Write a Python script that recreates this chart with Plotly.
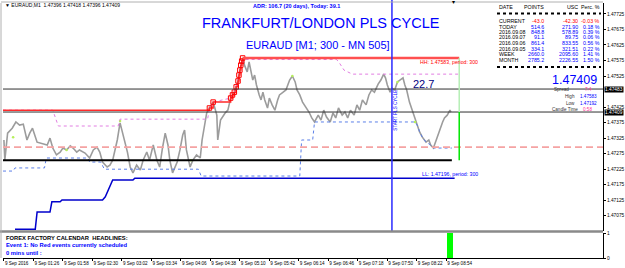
import plotly.graph_objects as go

# ---------------- data (minutes since 9 Sep 00:54, price) ----------------
bar_minute = [0, 1, 4, 9, 13, 17, 21, 25, 28, 31, 36, 41, 47, 50, 53, 57, 61, 64, 68, 72,
              75, 79, 82, 88, 93, 97, 101, 104, 107, 112, 115, 118, 123, 126, 128, 131, 134, 137, 140, 144,
              148, 151, 155, 158, 162, 166, 169, 172, 175, 178, 180, 183, 188, 191, 194, 196, 198, 202, 205, 209,
              213, 215, 218, 220, 223, 227, 231, 232, 235, 240, 243, 246, 248, 250, 252, 254, 255, 256, 257, 258,
              259, 261, 264, 266, 268, 270, 272, 274, 277, 279, 281, 283, 286, 288, 291, 294, 297, 299, 303, 306,
              308, 310, 313, 316, 318, 321, 324, 328, 331, 334, 337, 341, 344, 347, 350, 354, 357, 360, 363, 367,
              370, 373, 376, 380, 383, 386, 389, 393, 396, 399, 402, 406, 409, 412, 414, 416, 419, 421, 424, 427,
              430, 433, 435, 437, 440, 443, 446, 449, 451, 454, 458, 461, 463, 466, 470, 473, 476, 478, 481, 484, 485]
close_price = [1.47319, 1.47254, 1.47341, 1.47357, 1.47377, 1.47367, 1.47370, 1.47319, 1.47341, 1.47357,
               1.47312, 1.47309, 1.47303, 1.47325, 1.47293, 1.47271, 1.47280, 1.47293, 1.47287, 1.47300,
               1.47293, 1.47280, 1.47287, 1.47277, 1.47261, 1.47287, 1.47296, 1.47280, 1.47248, 1.47232,
               1.47238, 1.47254, 1.47319, 1.47374, 1.47351, 1.47309, 1.47280, 1.47232, 1.47213, 1.47238,
               1.47222, 1.47254, 1.47280, 1.47254, 1.47303, 1.47254, 1.47232, 1.47293, 1.47341, 1.47303,
               1.47254, 1.47213, 1.47248, 1.47287, 1.47335, 1.47351, 1.47287, 1.47232, 1.47254, 1.47271,
               1.47261, 1.47319, 1.47374, 1.47406, 1.47422, 1.47441, 1.47399, 1.47319, 1.47383, 1.47406,
               1.47415, 1.47454, 1.47464, 1.47473, 1.47490, 1.47509, 1.47528, 1.47544, 1.47560, 1.47573,
               1.47583, 1.47560, 1.47538, 1.47570, 1.47544, 1.47512, 1.47528, 1.47496, 1.47464, 1.47448,
               1.47473, 1.47448, 1.47422, 1.47454, 1.47432, 1.47415, 1.47448, 1.47464, 1.47473, 1.47480,
               1.47496, 1.47512, 1.47525, 1.47506, 1.47480, 1.47464, 1.47441, 1.47425, 1.47409, 1.47390,
               1.47377, 1.47399, 1.47383, 1.47415, 1.47393, 1.47377, 1.47406, 1.47390, 1.47422, 1.47399,
               1.47409, 1.47390, 1.47415, 1.47399, 1.47432, 1.47415, 1.47448, 1.47432, 1.47464, 1.47480,
               1.47473, 1.47499, 1.47512, 1.47531, 1.47519, 1.47496, 1.47473, 1.47486, 1.47480, 1.47506,
               1.47512, 1.47519, 1.47496, 1.47480, 1.47441, 1.47415, 1.47383, 1.47364, 1.47345, 1.47328,
               1.47312, 1.47319, 1.47303, 1.47293, 1.47328, 1.47357, 1.47377, 1.47390, 1.47399, 1.47415, 1.47409]

# new-high squares (HH trail)
hh_minute = [-1, 223, 227, 246, 248, 250, 252, 254, 255, 256, 257, 258, 259]
hh_price = [1.47415, 1.47422, 1.47441, 1.47454, 1.47464, 1.47473, 1.47490, 1.47509, 1.47528, 1.47544,
            1.47560, 1.47573, 1.47583]
hh_level_minute = [259, 494]
hh_level = 1.47583

# short trailing high (violet dotted)
vhigh_minute = [-1, 53, 59, 124, 126, 221, 223, 227, 246, 250, 254, 257, 261, 361, 364, 369, 378, 494]
vhigh_price = [1.47415, 1.47415, 1.47364, 1.47364, 1.47386, 1.47386, 1.47422, 1.47441, 1.47454, 1.47473,
               1.47509, 1.47560, 1.47578, 1.47578, 1.47567, 1.47544, 1.47531, 1.47531]

# short trailing low (blue dotted)
vlow_minute = [-1, 10, 12, 44, 46, 91, 93, 105, 109, 211, 214, 321, 323, 335, 337, 446, 449, 451, 454,
               458, 463, 466, 486]
vlow_price = [1.47219, 1.47219, 1.47229, 1.47229, 1.47261, 1.47261, 1.47248, 1.47248, 1.47225, 1.47225,
              1.47203, 1.47203, 1.47319, 1.47319, 1.47377, 1.47377, 1.47364, 1.47345, 1.47328,
              1.47312, 1.47303, 1.47293, 1.47293]

# LL trail (dark blue)
ll_minute = [12, 34, 36, 50, 52, 61, 63, 107, 110, 115, 118, 140, 142, 489]
ll_price = [1.47032, 1.47032, 1.47087, 1.47087, 1.47120, 1.47120, 1.47126, 1.47126, 1.47136, 1.47168,
            1.47190, 1.47190, 1.47196, 1.47196]

green_dot_minute = [10, 68, 126, 203, 313, 427, 446]
green_dot_price = [1.47328, 1.47287, 1.47380, 1.47254, 1.47525, 1.47506, 1.47377]

support_level = 1.47254          # thick black
support_end_minute = 486
pivot_level = 1.47296            # dashed light red
upper_level = 1.47483            # thin black, labelled on axis
bid_level = 1.47409              # thin black, labelled on axis
cycle_start_minute = 421
now_minute = 494
signal_minute = [484]
signal_value = [1]

x_tick_minute = [0, 32, 64, 96, 128, 160, 192, 224, 256, 288, 320, 352, 384, 416, 448, 480]
x_tick_text = ["9 Sep 2016", "9 Sep 01:26", "9 Sep 01:58", "9 Sep 02:30", "9 Sep 03:02", "9 Sep 03:34",
               "9 Sep 04:06", "9 Sep 04:38", "9 Sep 05:10", "9 Sep 05:42", "9 Sep 06:14", "9 Sep 06:46",
               "9 Sep 07:18", "9 Sep 07:50", "9 Sep 08:22", "9 Sep 08:54"]
# 1.47475 is hidden behind the 1.47483 price box in the reference
y_tick_price = [1.47725, 1.47675, 1.47625, 1.47575, 1.47525, 1.47425, 1.47375, 1.47325,
                1.47275, 1.47225, 1.47175, 1.47125, 1.47075, 1.47025]

table_rows = ["CURRENT", "TODAY", "2016.09.08", "2016.09.07", "2016.09.06", "2016.09.05", "WEEK", "MONTH"]
table_points = ["-43.0", "514.6", "848.8", "91.1", "861.4", "334.1", "2660.0", "2785.2"]
table_usc = ["-42.30", "271.90", "578.89", "89.75", "833.55", "321.51", "2095.60", "2226.55"]
table_perc = ["-0.03 %", "0.18 %", "0.39 %", "0.06 %", "0.56 %", "0.22 %", "1.41 %", "1.50 %"]

# ---------------- layout helpers (pixels -> paper) ----------------
W, H = 625, 268
ML, MR, MT, MB = 3, 22, 3, 10
PW, PH = W - ML - MR, H - MT - MB


def px(x):
    return (x - ML) / PW


def py(y):
    return (H - MB - y) / PH


FONT = "Liberation Sans"
BLUE = "#0000ff"

fig = go.Figure()

# price
fig.add_trace(go.Scatter(x=bar_minute, y=close_price, mode="lines",
                         line=dict(color="#9c9c9c", width=1.6), xaxis="x", yaxis="y"))
fig.add_trace(go.Scatter(x=green_dot_minute, y=green_dot_price, mode="markers",
                         marker=dict(color="#b6f05a", size=2.5), xaxis="x", yaxis="y"))
# violet dotted trailing high
fig.add_trace(go.Scatter(x=vhigh_minute, y=vhigh_price, mode="lines",
                         line=dict(color="#e27ee2", width=1, dash="dot"), xaxis="x", yaxis="y"))
# blue dotted trailing low
fig.add_trace(go.Scatter(x=vlow_minute, y=vlow_price, mode="lines",
                         line=dict(color="#5b7fe8", width=1, dash="dot"), xaxis="x", yaxis="y"))
# LL dark blue
fig.add_trace(go.Scatter(x=ll_minute, y=ll_price, mode="lines",
                         line=dict(color="#0000cc", width=1.5), xaxis="x", yaxis="y"))
# HH trail red with squares
fig.add_trace(go.Scatter(x=hh_minute, y=hh_price, mode="lines", line_shape="hv",
                         line=dict(color="#ff2a2a", width=1.5), xaxis="x", yaxis="y"))
fig.add_trace(go.Scatter(x=hh_minute[1:], y=hh_price[1:], mode="markers",
                         marker=dict(symbol="square-open", color="#ff0000", size=4.5, line=dict(width=1)),
                         xaxis="x", yaxis="y"))
fig.add_trace(go.Scatter(x=hh_level_minute, y=[hh_level, hh_level], mode="lines",
                         line=dict(color="#ff5050", width=2.5), xaxis="x", yaxis="y"))
# support thick black
fig.add_trace(go.Scatter(x=[-1, support_end_minute], y=[support_level, support_level], mode="lines",
                         line=dict(color="#000000", width=2), xaxis="x", yaxis="y"))
# signal bar in lower pane
fig.add_trace(go.Bar(x=signal_minute, y=signal_value, width=7, marker=dict(color="#00ff00", line_width=0),
                     xaxis="x", yaxis="y2"))

shapes = []
# full width levels
shapes.append(dict(type="line", xref="x domain", yref="y", x0=0, x1=1, y0=pivot_level, y1=pivot_level,
                   line=dict(color="#f5a3a3", width=1.8, dash="7px,4px")))
for lvl in (upper_level, bid_level):
    shapes.append(dict(type="line", xref="x domain", yref="y", x0=0, x1=1, y0=lvl, y1=lvl,
                       line=dict(color="#303030", width=1)))
# cycle start vertical
shapes.append(dict(type="line", xref="x", yref="paper", x0=cycle_start_minute, x1=cycle_start_minute,
                   y0=py(231), y1=py(0), line=dict(color="#2b2bff", width=1.5)))
# now vertical (pale + bright green)
shapes.append(dict(type="line", xref="x", yref="y", x0=now_minute, x1=now_minute, y0=hh_level, y1=bid_level,
                   line=dict(color="#b5efb5", width=1.5)))
shapes.append(dict(type="line", xref="x", yref="y", x0=now_minute, x1=now_minute, y0=bid_level,
                   y1=support_level, line=dict(color="#00e600", width=1.5)))
# pane separator and frame
shapes.append(dict(type="line", xref="paper", yref="paper", x0=px(0), x1=1, y0=py(231.5), y1=py(231.5),
                   line=dict(color="#8a8a8a", width=2.5)))
shapes.append(dict(type="line", xref="paper", yref="paper", x0=px(1), x1=px(1), y0=0, y1=1,
                   line=dict(color="#b0b0b0", width=1)))
shapes.append(dict(type="line", xref="paper", yref="paper", x0=px(1), x1=1, y0=py(2), y1=py(2),
                   line=dict(color="#b0b0b0", width=1)))
# table separators
for yy in (13.5, 67):
    shapes.append(dict(type="line", xref="paper", yref="paper", x0=px(497), x1=px(601), y0=py(yy), y1=py(yy),
                       line=dict(color="#000000", width=2, dash="dot")))

ann = []


def text(t, x, y, size, color="#000000", anchor="left", bold=False, angle=0, yanchor="middle"):
    ann.append(dict(text=("<b>%s</b>" % t) if bold else t, x=px(x), y=py(y), xref="paper", yref="paper",
                    xanchor=anchor, yanchor=yanchor, showarrow=False, textangle=angle,
                    font=dict(family=FONT, size=size, color=color)))


text("ADR: 106.7 (20 days), Today: 39.1", 296, 6, 5.5, BLUE, "center", bold=True)
text("FRANKFURT/LONDON PLS CYCLE", 321, 23, 14.5, BLUE, "center")
text("EURAUD [M1; 300 - MN 505]", 318, 45, 11, BLUE, "center")
text("▼ EURAUD,M1  1.47396 1.47418 1.47396 1.47409", 3, 5.5, 5, "#000000")
text("▾", 453, 2, 6, "#000000", "center")

# table
TS = 5.3
text("DATE", 497, 7, TS)
text("POINTS", 546, 7, TS, anchor="right")
text("USC", 580, 7, TS, anchor="right")
text("Perc. %", 602, 7, TS, anchor="right")
row_y = [21, 26.5, 32, 37.5, 43, 48.5, 54.5, 60.5]
for i, r in enumerate(table_rows):
    c = "#ff0000" if i == 0 else BLUE
    text(r, 497, row_y[i], TS)
    text(table_points[i], 546, row_y[i], TS, c, "right")
    text(table_usc[i], 580, row_y[i], TS, c, "right")
    text(table_perc[i], 602, row_y[i], TS, c, "right")

text("%.5f" % bid_level, 599, 80, 12.5, BLUE, "right")
text("Spread", 571, 89, 4.6, "#333333", "right")
text("7.4", 594, 89, 4.6, "#ff3399", "right")
text("High", 577, 96, 4.6, "#333333", "right")
text("%.5f" % hh_level, 578, 96, 4.6, BLUE)
text("Low", 577, 103, 4.6, "#333333", "right")
text("1.47192", 578, 103, 4.6, BLUE)
text("Candle Time", 580, 110, 4.6, "#333333", "right")
text("0:58", 594, 110, 4.6, "#ff3399", "right")

# chart labels
ann.append(dict(text="22.7", x=455, y=1.47499, xref="x", yref="y", xanchor="center", yanchor="middle",
                showarrow=False, font=dict(family=FONT, size=11, color="#000080")))
ann.append(dict(text="HH: %.5f, period: 300" % hh_level, x=449, y=1.47571, xref="x", yref="y",
                xanchor="left", yanchor="middle", showarrow=False,
                font=dict(family=FONT, size=5.2, color="#ff0000")))
ann.append(dict(text="LL: 1.47196, period: 300", x=451, y=1.47209, xref="x", yref="y",
                xanchor="left", yanchor="middle", showarrow=False,
                font=dict(family=FONT, size=5.2, color=BLUE)))
ann.append(dict(text="START PLS CYCLE", x=cycle_start_minute + 4, y=1.47415, xref="x", yref="y",
                xanchor="center", yanchor="middle", showarrow=False, textangle=-90,
                font=dict(family=FONT, size=4.6, color=BLUE)))
# axis price boxes
for lvl in (upper_level, bid_level):
    ann.append(dict(text="%.5f" % lvl, x=1, y=lvl, xref="paper", yref="y", xanchor="left", yanchor="middle",
                    xshift=1, showarrow=False, bgcolor="#000000", borderpad=0,
                    font=dict(family=FONT, size=4.8, color="#ffffff")))

# lower pane texts
text("FOREX FACTORY CALENDAR  HEADLINES:", 4, 237.5, 5.8, "#000000", bold=True)
text("Event 1: No Red events currently scheduled", 4, 245, 5.8, BLUE, bold=True)
text("0 mins until :", 4, 252.5, 5.8, BLUE, bold=True)

main_lo, main_hi = py(231), 1.0
fig.update_layout(
    width=W, height=H, margin=dict(l=ML, r=MR, t=MT, b=MB, autoexpand=False),
    paper_bgcolor="#ffffff", plot_bgcolor="#ffffff", showlegend=False, bargap=0,
    shapes=shapes, annotations=ann,
    xaxis=dict(domain=[0, 1], range=[-1, 650], anchor="y2", tickvals=x_tick_minute, ticktext=x_tick_text,
               ticks="outside", ticklen=2, tickcolor="#000000", ticklabelposition="outside right",
               tickangle=0, automargin=False,
               tickfont=dict(family=FONT, size=4.6, color="#000000"), showgrid=False, zeroline=False,
               showline=True, linecolor="#000000", linewidth=1),
    yaxis=dict(domain=[main_lo, main_hi], range=[1.47026, 1.47760], side="right", anchor="x",
               automargin=False,
               tickvals=y_tick_price, ticktext=["%.5f" % v for v in y_tick_price], ticks="outside", ticklen=2,
               tickcolor="#000000", tickfont=dict(family=FONT, size=4.8, color="#000000"), showgrid=False,
               zeroline=False, showline=True, linecolor="#000000", linewidth=1),
    yaxis2=dict(domain=[0, py(233)], range=[0, 1], side="right", anchor="x", tickvals=[0, 1],
                automargin=False,
                ticktext=["0", "1"], ticks="outside", ticklen=2, tickcolor="#000000",
                tickfont=dict(family=FONT, size=4.8, color="#000000"), showgrid=False, zeroline=False,
                showline=True, linecolor="#000000", linewidth=1),
)

fig.write_html("out.html")
